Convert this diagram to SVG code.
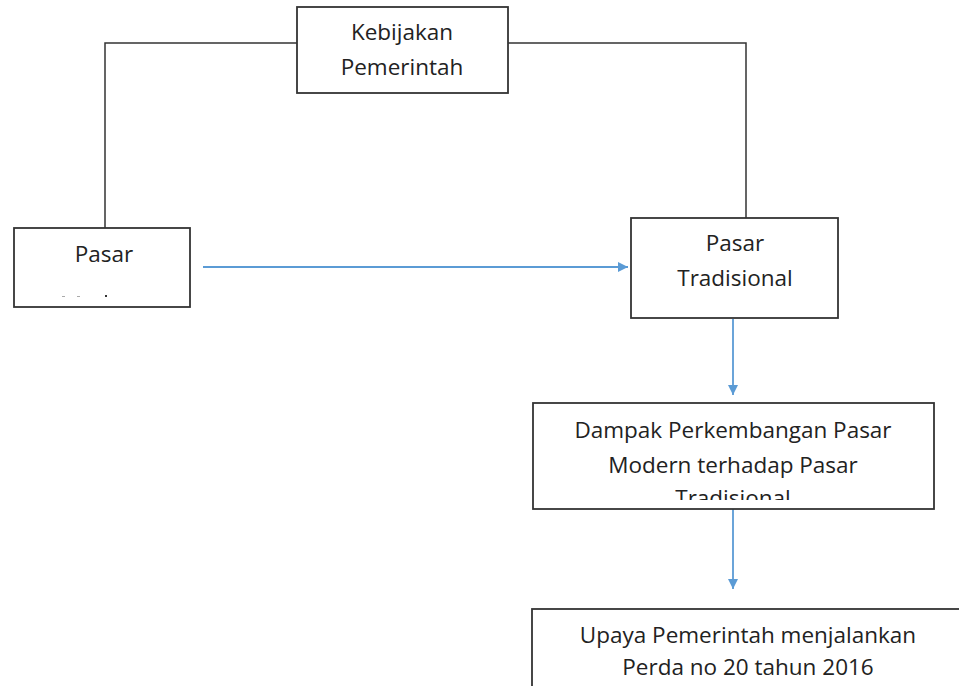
<svg xmlns="http://www.w3.org/2000/svg" width="959" height="686" viewBox="0 0 959 686">
<style>
.box{fill:#fff;stroke:#333;stroke-width:1.8}
.t{font-family:"Open Sans","Liberation Sans",sans-serif;font-size:22.5px;fill:#222;text-anchor:middle}
.line{fill:none;stroke:#333;stroke-width:1.5}
.blue{fill:none;stroke:#5B9BD5;stroke-width:1.8}
</style>
<defs>
<marker id="ah" viewBox="0 0 10 10" refX="10" refY="5" markerWidth="10" markerHeight="10" markerUnits="userSpaceOnUse" orient="auto">
<path d="M0,0 L10,5 L0,10 Z" fill="#5B9BD5"/>
</marker>
<clipPath id="c1"><rect x="533" y="403" width="401" height="97"/></clipPath>
</defs>
<g id="connectors">
<path class="line" d="M297,43 H105 V228"/>
<path class="line" d="M508,43 H746 V218"/>
<path class="blue" d="M203,267 H628" marker-end="url(#ah)"/>
<path class="blue" d="M733,319 V395" marker-end="url(#ah)"/>
<path class="blue" d="M733,509 V589" marker-end="url(#ah)"/>
</g>
<g id="kebijakan">
<rect class="box" x="297" y="7" width="211" height="86"/>
<text class="t" x="402" y="40">Kebijakan</text>
<text class="t" x="402" y="75">Pemerintah</text>
</g>
<g id="pasar">
<rect class="box" x="14" y="228" width="176" height="79"/>
<text class="t" x="104" y="262">Pasar</text>
<rect x="62" y="296" width="3" height="1" fill="#aaa"/>
<rect x="77" y="296" width="3" height="1" fill="#aaa"/>
<rect x="105" y="295" width="2" height="2" fill="#333"/>
</g>
<g id="pasar-tradisional">
<rect class="box" x="631" y="218" width="207" height="100"/>
<text class="t" x="735" y="251">Pasar</text>
<text class="t" x="735" y="286">Tradisional</text>
</g>
<g id="dampak">
<rect class="box" x="533" y="403" width="401" height="106"/>
<g clip-path="url(#c1)">
<text class="t" x="733" y="438">Dampak Perkembangan Pasar</text>
<text class="t" x="733" y="473">Modern terhadap Pasar</text>
<text class="t" x="733" y="506">Tradisional</text>
</g>
</g>
<g id="upaya">
<rect class="box" x="532" y="609" width="500" height="100"/>
<text class="t" x="748" y="643">Upaya Pemerintah menjalankan</text>
<text class="t" x="748" y="675">Perda no 20 tahun 2016</text>
</g>
</svg>
